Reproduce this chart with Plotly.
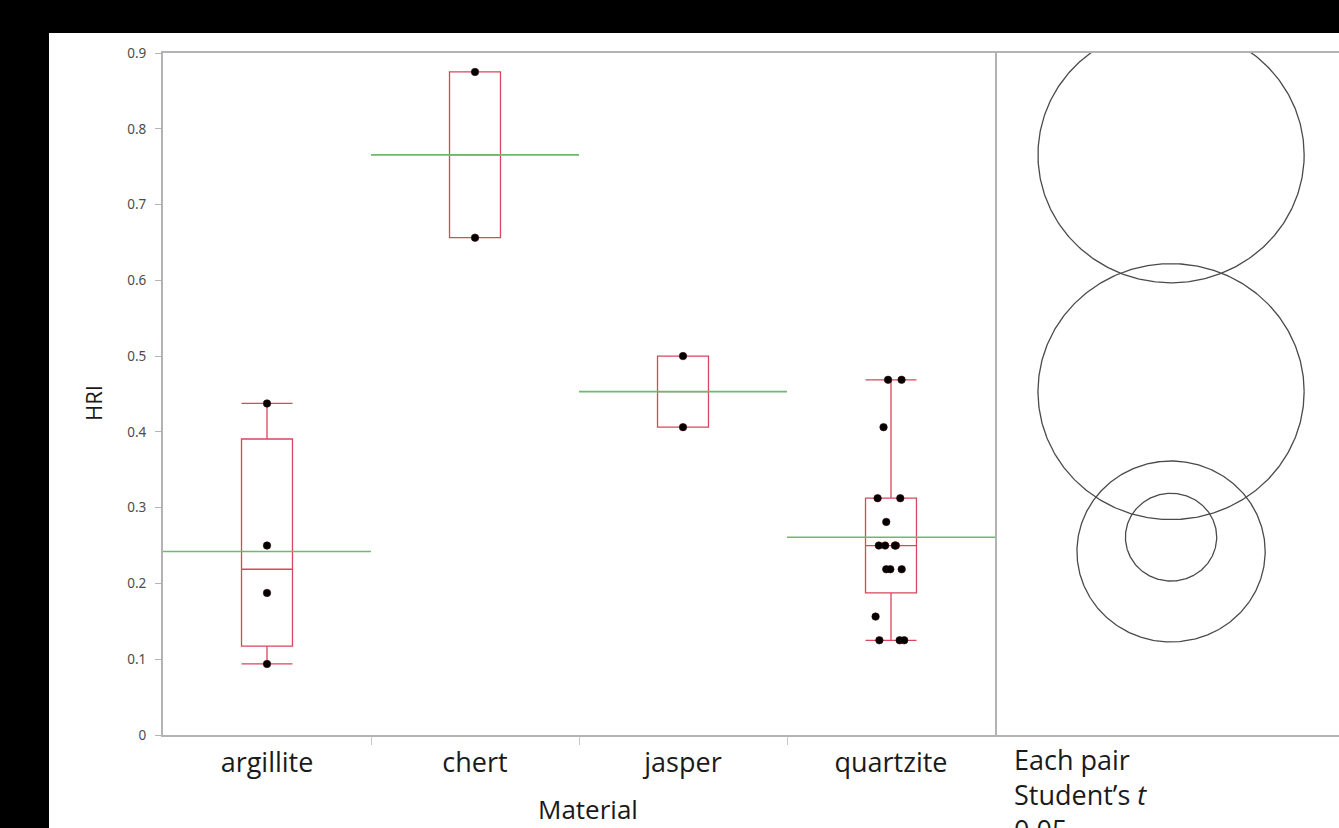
import numpy as np
import plotly.graph_objects as go

# ---------------- data (HRI by material) ----------------
materials = ["argillite", "chert", "jasper", "quartzite"]
hri_argillite = [0.09375, 0.1875, 0.25, 0.4375]
hri_chert = [0.65625, 0.875]
hri_jasper = [0.40625, 0.5]
hri_quartzite = [0.125, 0.125, 0.125, 0.15625, 0.21875, 0.21875, 0.21875,
                 0.25, 0.25, 0.25, 0.25, 0.28125, 0.3125, 0.3125,
                 0.40625, 0.46875, 0.46875]
y_tick_vals = [0, 0.1, 0.2, 0.3, 0.4, 0.5, 0.6, 0.7, 0.8, 0.9]
y_tick_text = ["0", "0.1", "0.2", "0.3", "0.4", "0.5", "0.6", "0.7", "0.8", "0.9"]
alpha = 0.05
t_crit = 2.0796  # Student's t quantile (1 - alpha/2) with df = N - k = 21

groups = [hri_argillite, hri_chert, hri_jasper, hri_quartzite]
positions = list(range(len(materials)))

# ---------------- statistics ----------------
q1s, meds, q3s, lows, highs, means, ns = [], [], [], [], [], [], []
ss_within = 0.0
for g in groups:
    v = np.sort(np.array(g, dtype=float))
    q1 = float(np.percentile(v, 25, method="weibull"))
    md = float(np.percentile(v, 50, method="weibull"))
    q3 = float(np.percentile(v, 75, method="weibull"))
    iqr = q3 - q1
    lo = float(v[v >= q1 - 1.5 * iqr].min())
    hi = float(v[v <= q3 + 1.5 * iqr].max())
    q1s.append(q1); meds.append(md); q3s.append(q3)
    lows.append(lo); highs.append(hi)
    means.append(float(v.mean())); ns.append(len(v))
    ss_within += float(((v - v.mean()) ** 2).sum())
df_err = sum(ns) - len(groups)
mse = ss_within / df_err
radii = [t_crit * np.sqrt(mse / n) for n in ns]

# ---------------- styling ----------------
RED = "#d8475c"
GREEN = "#6dba6d"
AXIS = "#b3b3b3"
CIRCLE = "#4a4a4a"
LABEL_FONT = "Open Sans"
TEXT = "#1a1a1a"

fig = go.Figure()

# mean lines (full category width)
for p, m in zip(positions, means):
    fig.add_trace(go.Scatter(
        x=[p - 0.5, p + 0.5], y=[m, m], mode="lines",
        line=dict(color=GREEN, width=1.6), hoverinfo="skip",
        showlegend=False, xaxis="x", yaxis="y"))

# box plots (quantiles computed above)
fig.add_trace(go.Box(
    x=positions, q1=q1s, median=meds, q3=q3s,
    lowerfence=lows, upperfence=highs,
    width=0.245, whiskerwidth=1, boxpoints=False,
    line=dict(color=RED, width=1.3), fillcolor="rgba(0,0,0,0)",
    showlegend=False, xaxis="x", yaxis="y"))

# raw points (jittered only where they crowd)
for p, g in zip(positions, groups):
    fig.add_trace(go.Box(
        x=[p] * len(g), y=g, boxpoints="all",
        jitter=0.8 if len(g) > 8 else 0.0, pointpos=0,
        width=0.245,
        marker=dict(color="black", size=7.5, line=dict(color="#3a0a10", width=0.6)),
        line=dict(color="rgba(0,0,0,0)", width=0), fillcolor="rgba(0,0,0,0)",
        showlegend=False, hoveron="points", xaxis="x", yaxis="y"))

# comparison circles
theta = np.linspace(0, 2 * np.pi, 400)
for m, r, name in zip(means, radii, materials):
    fig.add_trace(go.Scatter(
        x=r * np.cos(theta), y=m + r * np.sin(theta), mode="lines",
        line=dict(color=CIRCLE, width=1.3), name=name,
        hoverinfo="name", showlegend=False, xaxis="x2", yaxis="y2"))

# ---------------- layout ----------------
W, H = 1339, 828
L, R, T, B = 163, 0, 53, 93
PW = W - L - R
PH = H - T - B
split = (995 - L) / PW

fig.update_layout(
    width=W, height=H,
    margin=dict(l=L, r=R, t=T, b=B, pad=0),
    paper_bgcolor="white", plot_bgcolor="white",
    boxmode="overlay",
    xaxis=dict(
        domain=[0, split], range=[-0.5, 3.5],
        tickmode="array", tickvals=positions, ticktext=materials,
        ticks="", tickfont=dict(family=LABEL_FONT, size=27, color=TEXT),
        ticklabelstandoff=3,
        minor=dict(tickmode="array", tickvals=[p + 0.5 for p in positions[:-1]],
                   ticks="outside", ticklen=8, tickcolor="#c8c8c8", tickwidth=1),
        showline=True, linecolor=AXIS, linewidth=2, mirror=True,
        showgrid=False, zeroline=False, fixedrange=True),
    yaxis=dict(
        domain=[0, 1], range=[0, 0.9],
        tickmode="array", tickvals=y_tick_vals, ticktext=y_tick_text,
        ticks="outside", ticklen=6, tickcolor=AXIS, tickwidth=1,
        ticklabelstandoff=6,
        tickfont=dict(family="Noto Sans", size=13.5, color="#4d4d4d"),
        showline=True, linecolor=AXIS, linewidth=2, mirror=True,
        showgrid=False, zeroline=False, fixedrange=True),
    xaxis2=dict(
        domain=[split, 1], range=[-0.2234, 0.2131], anchor="y2",
        showticklabels=False, ticks="",
        showline=True, linecolor=AXIS, linewidth=2, mirror=True,
        showgrid=False, zeroline=False, fixedrange=True),
    yaxis2=dict(
        domain=[0, 1], range=[0, 0.9], anchor="x2", visible=False,
        fixedrange=True),
    annotations=[
        dict(text="HRI", xref="paper", yref="paper",
             x=(93 - L) / PW, y=(735 - 403) / PH,
             xanchor="center", yanchor="middle", textangle=-90,
             showarrow=False, font=dict(family=LABEL_FONT, size=22, color=TEXT)),
        dict(text="Material", xref="paper", yref="paper",
             x=(588 - L) / PW, y=(735 - 809) / PH,
             xanchor="center", yanchor="middle",
             showarrow=False, font=dict(family=LABEL_FONT, size=26, color=TEXT)),
        dict(text="Each pair<br>Student\u2019s <i>t</i><br>%.2f" % alpha,
             xref="paper", yref="paper",
             x=(1012 - L) / PW, y=(735 - 739) / PH,
             xanchor="left", yanchor="top", align="left",
             showarrow=False, font=dict(family=LABEL_FONT, size=27, color=TEXT)),
    ],
    shapes=[
        dict(type="rect", xref="paper", yref="paper", layer="above",
             x0=-L / PW, x1=(49 - L) / PW,
             y0=(735 - H) / PH, y1=735 / PH,
             fillcolor="black", line=dict(width=0)),
        dict(type="rect", xref="paper", yref="paper", layer="above",
             x0=-L / PW, x1=1,
             y0=(735 - 33) / PH, y1=735 / PH,
             fillcolor="black", line=dict(width=0)),
    ],
)

fig.write_html("out.html",
               config={"displayModeBar": False},
               post_script="document.body.style.margin='0px';"
                           "document.body.style.overflow='hidden';")
